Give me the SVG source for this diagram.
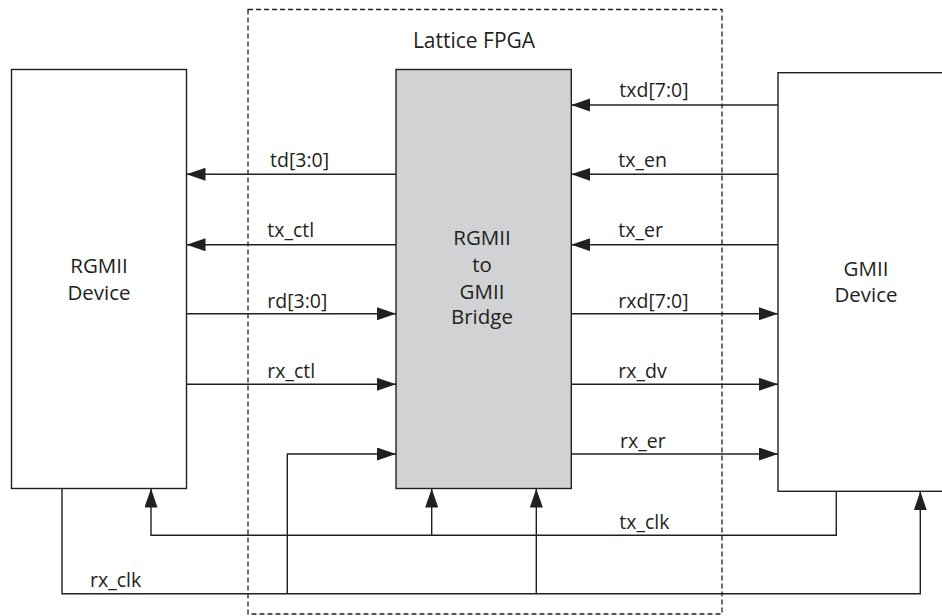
<svg xmlns="http://www.w3.org/2000/svg" width="942" height="616" viewBox="0 0 942 616">
<style>
text{font-family:"Open Sans","Noto Sans","Liberation Sans",sans-serif;font-size:19.5px;fill:#231f20}
.c{text-anchor:middle;font-size:20.5px}
.t{font-size:21px}
.box{fill:#fff;stroke:#231f20;stroke-width:1.4}
.br{fill:#d1d2d4;stroke:#231f20;stroke-width:1.4}
.w{fill:none;stroke:#231f20;stroke-width:1.4}
.a{fill:none;stroke:#231f20;stroke-width:1.4;marker-end:url(#ah)}
.d{fill:none;stroke:#231f20;stroke-width:1.3;stroke-dasharray:5 3}
</style>
<defs>
<marker id="ah" markerWidth="20" markerHeight="14" refX="19" refY="6.5" orient="auto" markerUnits="userSpaceOnUse">
<path d="M0,0 L19,6.5 L0,13 Z" fill="#231f20"/>
</marker>
</defs>
<g id="fpga">
<rect class="d" x="248" y="9.5" width="474" height="604.5"/>
<text class="c t" x="474" y="48">Lattice FPGA</text>
</g>
<g id="rgmii">
<rect class="box" x="11.5" y="69.5" width="175" height="419"/>
<text class="c" x="99" y="272.7">RGMII</text>
<text class="c" x="99" y="300">Device</text>
</g>
<g id="bridge">
<rect class="br" x="396" y="69.5" width="175.3" height="419"/>
<text class="c" x="482" y="245">RGMII</text>
<text class="c" x="482" y="271.7">to</text>
<text class="c" x="482" y="299">GMII</text>
<text class="c" x="482" y="324.3">Bridge</text>
</g>
<g id="gmii">
<rect class="box" x="778" y="72.7" width="180" height="418.6"/>
<text class="c" x="866" y="276">GMII</text>
<text class="c" x="866" y="301.7">Device</text>
</g>
<g id="connectors">
<path class="a" d="M396,174.3 H186.5"/>
<path class="a" d="M396,244.7 H186.5"/>
<path class="a" d="M186.5,313.7 H396"/>
<path class="a" d="M186.5,384.3 H396"/>
<path class="a" d="M778,105 H571.3"/>
<path class="a" d="M778,174.3 H571.3"/>
<path class="a" d="M778,244.7 H571.3"/>
<path class="a" d="M571.3,313.7 H778"/>
<path class="a" d="M571.3,384.3 H778"/>
<path class="a" d="M571.3,454 H778"/>
<path class="a" d="M836.3,491.3 V535.3 H151 V488.5"/>
<path class="a" d="M431.7,535.3 V488.5"/>
<path class="a" d="M62,488.5 V593.7 H920.3 V491.3"/>
<path class="a" d="M287.3,593.7 V454 H396"/>
<path class="a" d="M536.3,593.7 V488.5"/>
</g>
<g id="labels">
<text x="270" y="167">td[3:0]</text>
<text x="267.3" y="236.5">tx_ctl</text>
<text x="267.3" y="307.7">rd[3:0]</text>
<text x="267.3" y="378">rx_ctl</text>
<text x="619.3" y="97">txd[7:0]</text>
<text x="618.3" y="166.7">tx_en</text>
<text x="618.3" y="236.5">tx_er</text>
<text x="618.3" y="307.7">rxd[7:0]</text>
<text x="618.3" y="378">rx_dv</text>
<text x="620" y="448">rx_er</text>
<text x="619.3" y="528.7">tx_clk</text>
<text x="90" y="587.3">rx_clk</text>
</g>
</svg>
